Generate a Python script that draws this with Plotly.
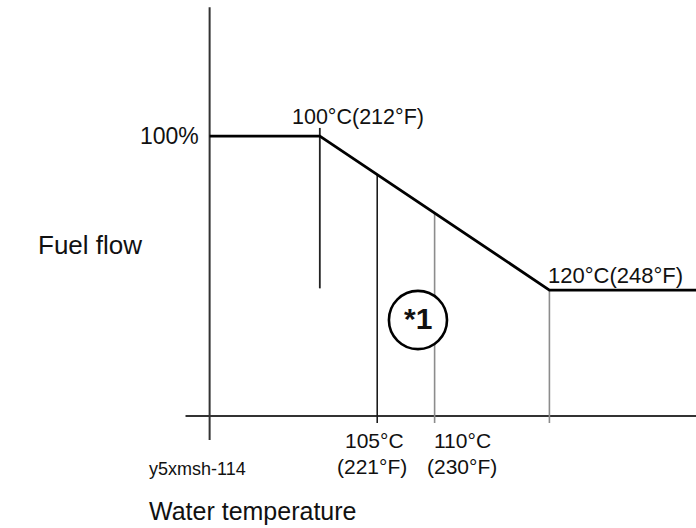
import numpy as np
import plotly.graph_objects as go

# Fuel-flow derating schedule against engine water temperature
temps_c = [100, 105, 110, 120]
temps_f = [212, 221, 230, 248]
break_temps = [100, 120]          # start / end of the derating ramp (°C)
break_flow = [100, 45]            # fuel flow at those points (%)
full_flow_label = "100%"

FONT = "Liberation Sans, Arial, Helvetica, sans-serif"
DARK = "#1a1a1a"
GREY = "#8c8c8c"

W, H = 696, 528
x_range = [72.14, 132.77]         # °C across the full canvas
y_range = [-40.0, 148.6]          # % across the full canvas

axis_t = 90.4                     # where the fuel-flow axis stands
axis_start_t = 88.3               # left end of the temperature axis
flow_at = lambda t: float(np.interp(t, break_temps, break_flow))

fig = go.Figure()


def seg(xs, ys, color, width):
    fig.add_trace(go.Scatter(x=xs, y=ys, mode="lines",
                             line=dict(color=color, width=width),
                             hoverinfo="skip", showlegend=False))


# axes
seg([axis_t, axis_t], [146.0, -8.6], "#333333", 2)
seg([axis_start_t, x_range[1]], [0, 0], "#333333", 2)

# guide lines at each marked temperature
seg([temps_c[0], temps_c[0]], [102.9, break_flow[1] + 0.6], "#222222", 1.8)
seg([temps_c[1], temps_c[1]], [flow_at(temps_c[1]), -2.5], DARK, 1.6)
seg([temps_c[2], temps_c[2]], [flow_at(temps_c[2]), -2.5], GREY, 1.6)
seg([temps_c[3], temps_c[3]], [flow_at(temps_c[3]), -2.5], GREY, 1.6)

# fuel-flow curve
seg([axis_t, break_temps[0], break_temps[1], x_range[1]],
    [break_flow[0], break_flow[0], break_flow[1], break_flow[1]], "#000000", 2.8)

# circled note marker
cx, cy, rx, ry = 108.55, 34.3, 2.53, 10.4
fig.add_shape(type="circle", xref="x", yref="y",
              x0=cx - rx, x1=cx + rx, y0=cy - ry, y1=cy + ry,
              line=dict(color="#000000", width=2.6), fillcolor="white",
              layer="above")

ann = []


def text(s, x, y, size, xanchor="center", yanchor="middle", xshift=0, yshift=0,
         xref="x", yref="y", color="#111111"):
    ann.append(dict(text=s, x=x, y=y, xref=xref, yref=yref, showarrow=False,
                    xanchor=xanchor, yanchor=yanchor, xshift=xshift, yshift=yshift,
                    font=dict(family=FONT, size=size, color=color)))


text("<b>*1</b>", cx, cy, 30, yshift=1)
text(full_flow_label, axis_t, break_flow[0], 23, xanchor="right", xshift=-9)
text(f"{temps_c[0]}°C({temps_f[0]}°F)", temps_c[0], break_flow[0], 21.5,
     xanchor="left", xshift=-30, yshift=19)
text(f"{temps_c[3]}°C({temps_f[3]}°F)", temps_c[3], break_flow[1], 22,
     xanchor="left", xshift=-3, yshift=15)
text(f"{temps_c[1]}°C", temps_c[1], 0, 21, yshift=-24, xshift=-3)
text(f"({temps_f[1]}°F)", temps_c[1], 0, 21, yshift=-50, xshift=-5)
text(f"{temps_c[2]}°C", temps_c[2], 0, 21, yshift=-24, xshift=28)
text(f"({temps_f[2]}°F)", temps_c[2], 0, 21, yshift=-50, xshift=27)

text("Fuel flow", 36 / W, 1 - 245 / H, 26, xanchor="left", xref="paper", yref="paper")
text("y5xmsh-114", 147 / W, 1 - 469 / H, 18, xanchor="left", xref="paper", yref="paper")
text("Water temperature", 147 / W, 1 - 511 / H, 25, xanchor="left", xref="paper", yref="paper")

fig.update_layout(
    width=W, height=H, margin=dict(l=0, r=0, t=0, b=0),
    paper_bgcolor="white", plot_bgcolor="white",
    xaxis=dict(range=x_range, visible=False, fixedrange=True),
    yaxis=dict(range=y_range, visible=False, fixedrange=True),
    annotations=ann, showlegend=False,
)

fig.write_html("out.html")
